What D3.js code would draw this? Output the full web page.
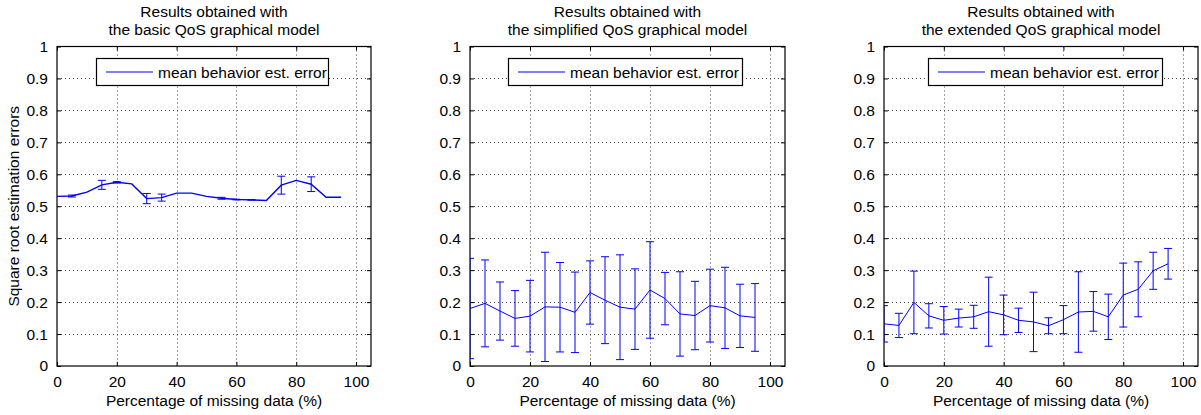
<!DOCTYPE html>
<html>
<head>
<meta charset="utf-8">
<script src="https://cdn.jsdelivr.net/npm/d3@7"></script>
<style>
  html, body { margin: 0; padding: 0; background: #fff; }
  svg { display: block; font-family: "Liberation Sans", Arial, sans-serif; }
</style>
</head>
<body>
<svg id="chart" width="1201" height="415"></svg>
<script>
// ---- data ----
const missingPct = [0, 5, 10, 15, 20, 25, 30, 35, 40, 45, 50, 55, 60, 65, 70, 75, 80, 85, 90, 95];
const xTicks = [0, 20, 40, 60, 80, 100];
const yTicks = [0, 0.1, 0.2, 0.3, 0.4, 0.5, 0.6, 0.7, 0.8, 0.9, 1];

const basicMean = [0.531, 0.532, 0.544, 0.567, 0.575, 0.570, 0.524, 0.527, 0.541, 0.541,
                   0.531, 0.525, 0.521, 0.520, 0.518, 0.566, 0.581, 0.569, 0.528, 0.528];
const basicErr  = [0, 0.003, 0, 0.014, 0.002, 0, 0.016, 0.011, 0, 0,
                   0, 0.003, 0.001, 0.001, 0, 0.028, 0, 0.023, 0, 0];

const simplifiedMean = [0.180, 0.196, 0.172, 0.149, 0.156, 0.185, 0.184, 0.168, 0.230, 0.206,
                        0.184, 0.178, 0.238, 0.211, 0.163, 0.158, 0.189, 0.182, 0.157, 0.152];
const simplifiedErr  = [0.157, 0.136, 0.091, 0.087, 0.112, 0.171, 0.140, 0.126, 0.099, 0.136,
                        0.164, 0.126, 0.151, 0.082, 0.132, 0.107, 0.114, 0.127, 0.099, 0.106];

const extendedMean = [0.132, 0.127, 0.199, 0.157, 0.143, 0.150, 0.154, 0.170, 0.160, 0.143,
                      0.138, 0.126, 0.145, 0.169, 0.171, 0.154, 0.222, 0.240, 0.298, 0.320];
const extendedErr  = [0.057, 0.038, 0.098, 0.038, 0.043, 0.028, 0.036, 0.108, 0.062, 0.038,
                      0.093, 0.025, 0.044, 0.126, 0.062, 0.071, 0.100, 0.086, 0.058, 0.048];

const titles = [
  ["Results obtained with", "the basic QoS graphical model"],
  ["Results obtained with", "the simplified QoS graphical model"],
  ["Results obtained with", "the extended QoS graphical model"]
];
const legendLabel = "mean behavior est. error";
const xLabel = "Percentage of missing data (%)";
const yLabel = "Square root estimation errors";

// ---- layout ----
const panels = [
  { left: 57,  right: 371,  mean: basicMean,      err: basicErr,      lw: 1.4, legL: 96,  legR: 328 },
  { left: 470, right: 785,  mean: simplifiedMean, err: simplifiedErr, lw: 1,   legL: 508, legR: 742 },
  { left: 884, right: 1198, mean: extendedMean,   err: extendedErr,   lw: 1,   legL: 928, legR: 1162 }
];
const plotTop = 46.5, plotBottom = 366;
const fs = 15.5;
const blue = "#0000ff";

const svg = d3.select("#chart");

panels.forEach((p, i) => {
  const x = d3.scaleLinear().domain([0, 105]).range([p.left, p.right]);
  const y = d3.scaleLinear().domain([0, 1]).range([plotBottom, plotTop]);
  const g = svg.append("g");

  // grid
  g.append("g").selectAll("line").data(xTicks.filter(t => t > 0)).join("line")
    .attr("x1", d => Math.round(x(d)) + 0.5).attr("x2", d => Math.round(x(d)) + 0.5)
    .attr("y1", plotTop).attr("y2", plotBottom)
    .attr("stroke", "#444").attr("stroke-width", 1).attr("stroke-dasharray", "1,3");
  g.append("g").selectAll("line").data(yTicks.filter(t => t > 0 && t < 1)).join("line")
    .attr("x1", p.left).attr("x2", p.right)
    .attr("y1", d => Math.round(y(d)) + 0.5).attr("y2", d => Math.round(y(d)) + 0.5)
    .attr("stroke", "#444").attr("stroke-width", 1).attr("stroke-dasharray", "1,3");

  // axes with inward ticks
  const xAxisB = d3.axisBottom(x).tickValues(xTicks).tickSize(-4).tickPadding(10).tickFormat(d3.format("d"));
  const xAxisT = d3.axisTop(x).tickValues(xTicks).tickSize(-4).tickFormat("");
  const yAxisL = d3.axisLeft(y).tickValues(yTicks).tickSize(-4).tickPadding(9).tickFormat(d => d === 0 || d === 1 ? String(d) : d3.format(".1f")(d));
  const yAxisR = d3.axisRight(y).tickValues(yTicks).tickSize(-4).tickFormat("");

  const gb = g.append("g").attr("transform", `translate(0,${plotBottom})`).call(xAxisB);
  const gt = g.append("g").attr("transform", `translate(0,${plotTop})`).call(xAxisT);
  const gl = g.append("g").attr("transform", `translate(${p.left},0)`).call(yAxisL);
  const gr = g.append("g").attr("transform", `translate(${p.right},0)`).call(yAxisR);
  [gb, gt, gl, gr].forEach(a => {
    a.select(".domain").remove();
    a.selectAll(".tick line").attr("stroke", "#000");
    a.selectAll("text").attr("font-size", fs).attr("fill", "#000")
      .attr("font-family", "'Liberation Sans', Arial, sans-serif");
  });

  // clip
  const clipId = "clip" + i;
  svg.append("clipPath").attr("id", clipId).append("rect")
    .attr("x", p.left).attr("y", plotTop).attr("width", p.right - p.left).attr("height", plotBottom - plotTop);

  const data = missingPct.map((m, k) => ({ x: m, y: p.mean[k], e: p.err[k] }));
  const plot = g.append("g").attr("clip-path", `url(#${clipId})`);

  // error bars
  const eb = plot.append("g").attr("stroke", blue).attr("stroke-width", 1).attr("fill", "none");
  data.filter(d => d.e > 0).forEach(d => {
    const cx = x(d.x), y1 = y(d.y + d.e), y2 = y(d.y - d.e);
    eb.append("line").attr("x1", cx).attr("x2", cx).attr("y1", y1).attr("y2", y2);
    eb.append("line").attr("x1", cx - 4).attr("x2", cx + 4).attr("y1", y1).attr("y2", y1);
    eb.append("line").attr("x1", cx - 4).attr("x2", cx + 4).attr("y1", y2).attr("y2", y2);
  });

  // mean line
  plot.append("path").datum(data)
    .attr("fill", "none").attr("stroke", blue).attr("stroke-width", p.lw)
    .attr("d", d3.line().x(d => x(d.x)).y(d => y(d.y)));

  // box
  g.append("rect").attr("x", p.left).attr("y", plotTop)
    .attr("width", p.right - p.left).attr("height", plotBottom - plotTop)
    .attr("fill", "none").attr("stroke", "#000").attr("stroke-width", 1.2);

  // legend
  const lg = g.append("g");
  lg.append("rect").attr("x", p.legL + 0.5).attr("y", 58.5)
    .attr("width", p.legR - p.legL).attr("height", 27)
    .attr("fill", "#fff").attr("stroke", "#000").attr("stroke-width", 1.2);
  lg.append("line").attr("x1", p.legL + 10).attr("x2", p.legL + 57)
    .attr("y1", 72).attr("y2", 72).attr("stroke", blue).attr("stroke-width", 1);
  lg.append("text").attr("x", p.legL + 62).attr("y", 77.5)
    .attr("font-size", fs).attr("fill", "#000").text(legendLabel);

  // title
  const cx = (p.left + p.right) / 2;
  g.append("text").attr("x", cx).attr("y", 17).attr("text-anchor", "middle")
    .attr("font-size", fs).attr("fill", "#000").text(titles[i][0]);
  g.append("text").attr("x", cx).attr("y", 34.5).attr("text-anchor", "middle")
    .attr("font-size", fs).attr("fill", "#000").text(titles[i][1]);

  // x label
  g.append("text").attr("x", cx).attr("y", 405.5).attr("text-anchor", "middle")
    .attr("font-size", fs).attr("fill", "#000").text(xLabel);

  if (i === 0) {
    g.append("text").attr("transform", `translate(19,${(plotTop + plotBottom) / 2}) rotate(-90)`)
      .attr("text-anchor", "middle").attr("font-size", fs).attr("fill", "#000").text(yLabel);
  }
});
</script>
</body>
</html>
